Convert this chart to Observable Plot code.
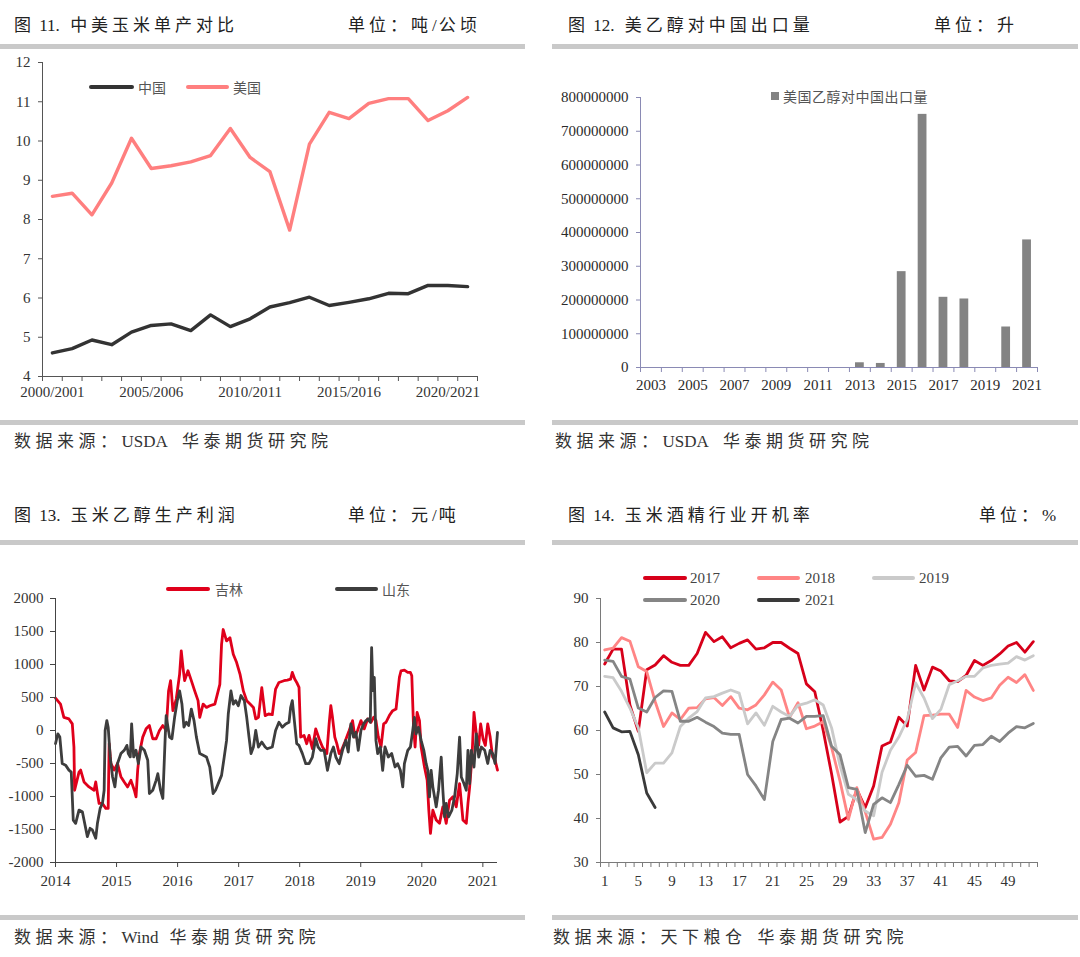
<!DOCTYPE html>
<html><head><meta charset="utf-8">
<script src="https://cdn.jsdelivr.net/npm/d3@7"></script>
<script src="https://cdn.jsdelivr.net/npm/@observablehq/plot@0.6"></script>
<style>
html,body{margin:0;padding:0;background:#fff;}
body{width:1080px;height:957px;position:relative;overflow:hidden;font-family:"Noto Sans CJK SC",sans-serif;}
.t{position:absolute;white-space:pre;line-height:1;}
.rule{position:absolute;height:5px;background:#c9c9c9;}
.sw{position:absolute;height:4px;border-radius:2px;}
svg{position:absolute;overflow:visible;}
</style></head><body>
<script>
// ---------- Data ----------
// Fig 11: corn yield, t/ha
const seasons = ["2000/2001","2001/2002","2002/2003","2003/2004","2004/2005","2005/2006","2006/2007","2007/2008","2008/2009","2009/2010","2010/2011","2011/2012","2012/2013","2013/2014","2014/2015","2015/2016","2016/2017","2017/2018","2018/2019","2019/2020","2020/2021","2021/2022"];
const chinaYield = [4.60,4.71,4.93,4.81,5.13,5.30,5.34,5.17,5.57,5.27,5.47,5.77,5.88,6.02,5.81,5.89,5.98,6.12,6.11,6.32,6.32,6.29];
const usYield = [8.59,8.67,8.12,8.93,10.07,9.30,9.37,9.47,9.63,10.32,9.58,9.22,7.73,9.92,10.73,10.57,10.96,11.08,11.08,10.52,10.77,11.11];
const seasonLabelIdx = [0,5,10,15,20];

// Fig 12: US ethanol exports to China, litres
const exportYears = [2003,2004,2005,2006,2007,2008,2009,2010,2011,2012,2013,2014,2015,2016,2017,2018,2019,2020,2021];
const exportLiters = [0,0,0,0,0,0,0,0,0,0,14000000,12000000,284000000,750000000,208000000,203000000,0,120000000,378000000];
const exportLabelYears = [2003,2005,2007,2009,2011,2013,2015,2017,2019,2021];

// Fig 13: corn ethanol production profit, yuan/t  [decimal year, value]
const jilin = [[2014.000,492],[2014.082,400],[2014.137,200],[2014.220,175],[2014.275,100],[2014.302,-250],[2014.313,-905],[2014.385,-630],[2014.412,-600],[2014.467,-780],[2014.549,-855],[2014.632,-905],[2014.659,-780],[2014.687,-955],[2014.714,-1105],[2014.769,-1105],[2014.824,-1180],[2014.863,-1180],[2014.879,-200],[2014.907,-500],[2014.962,-600],[2015.016,-500],[2015.071,-700],[2015.126,-780],[2015.181,-855],[2015.236,-755],[2015.291,-905],[2015.319,-1005],[2015.346,-600],[2015.374,-350],[2015.429,-100],[2015.484,25],[2015.538,75],[2015.593,-125],[2015.648,-125],[2015.703,0],[2015.758,75],[2015.813,0],[2015.852,600],[2015.885,755],[2015.923,300],[2015.978,477],[2016.033,855],[2016.060,1205],[2016.088,955],[2016.115,755],[2016.170,905],[2016.225,755],[2016.280,600],[2016.335,452],[2016.363,200],[2016.418,400],[2016.473,350],[2016.527,375],[2016.610,400],[2016.665,600],[2016.692,700],[2016.720,1305],[2016.747,1530],[2016.802,1357],[2016.857,1407],[2016.912,1155],[2016.967,1030],[2017.022,855],[2017.077,600],[2017.132,452],[2017.187,400],[2017.242,350],[2017.280,175],[2017.324,200],[2017.379,650],[2017.434,225],[2017.489,250],[2017.551,240],[2017.605,628],[2017.660,728],[2017.742,754],[2017.797,764],[2017.852,779],[2017.879,880],[2017.918,779],[2017.951,728],[2017.989,653],[2018.016,-100],[2018.071,-75],[2018.115,-200],[2018.153,-75],[2018.208,-276],[2018.263,25],[2018.318,-125],[2018.373,-250],[2018.444,-350],[2018.482,100],[2018.510,377],[2018.537,200],[2018.575,-100],[2018.608,-200],[2018.647,-350],[2018.685,-300],[2018.740,-175],[2018.811,0],[2018.866,150],[2018.904,-100],[2018.948,0],[2019.003,150],[2019.058,25],[2019.112,175],[2019.167,125],[2019.211,200],[2019.249,150],[2019.288,-100],[2019.332,-250],[2019.375,100],[2019.414,125],[2019.468,226],[2019.523,301],[2019.578,326],[2019.633,804],[2019.660,905],[2019.715,915],[2019.770,880],[2019.814,880],[2019.836,830],[2019.863,100],[2019.890,-250],[2019.923,276],[2019.962,150],[2019.989,-250],[2020.044,-553],[2020.088,-754],[2020.115,-1206],[2020.142,-1558],[2020.181,-1206],[2020.236,-1357],[2020.290,-1407],[2020.345,-1156],[2020.400,-1407],[2020.455,-1055],[2020.510,-1005],[2020.564,-1156],[2020.619,-804],[2020.674,-1357],[2020.729,-1407],[2020.756,-1106],[2020.784,-854],[2020.822,-402],[2020.855,276],[2020.893,-50],[2020.932,-226],[2020.964,100],[2021.003,-125],[2021.041,-226],[2021.080,100],[2021.120,-100],[2021.160,-400],[2021.200,-450],[2021.240,-600]];
const shandong = [[2014.000,-200],[2014.038,-50],[2014.071,-100],[2014.110,-500],[2014.165,-525],[2014.220,-600],[2014.258,-630],[2014.291,-1357],[2014.330,-1407],[2014.385,-1206],[2014.440,-1230],[2014.467,-1357],[2014.522,-1608],[2014.566,-1482],[2014.604,-1507],[2014.659,-1633],[2014.687,-1407],[2014.731,-1180],[2014.769,-1105],[2014.797,-905],[2014.813,0],[2014.841,150],[2014.863,50],[2014.896,-400],[2014.934,-700],[2014.973,-855],[2015.016,-500],[2015.071,-350],[2015.126,-300],[2015.170,-225],[2015.192,-350],[2015.225,-400],[2015.247,100],[2015.280,-400],[2015.319,-300],[2015.357,-500],[2015.401,-250],[2015.456,-300],[2015.511,-450],[2015.538,-955],[2015.593,-905],[2015.648,-755],[2015.676,-655],[2015.720,-905],[2015.758,-1030],[2015.797,-100],[2015.813,225],[2015.868,-100],[2015.907,-125],[2015.951,200],[2015.995,452],[2016.033,600],[2016.071,400],[2016.104,50],[2016.143,125],[2016.181,75],[2016.225,325],[2016.269,150],[2016.308,-100],[2016.363,-350],[2016.418,-375],[2016.473,-400],[2016.527,-555],[2016.582,-955],[2016.621,-905],[2016.665,-805],[2016.720,-680],[2016.764,-400],[2016.802,-150],[2016.830,250],[2016.874,600],[2016.912,400],[2016.951,452],[2016.995,375],[2017.038,530],[2017.093,452],[2017.132,200],[2017.170,-100],[2017.203,-350],[2017.242,-250],[2017.280,0],[2017.324,-250],[2017.379,-175],[2017.434,-250],[2017.468,-276],[2017.551,-250],[2017.605,0],[2017.660,125],[2017.715,50],[2017.770,100],[2017.825,125],[2017.852,352],[2017.879,452],[2017.907,200],[2017.951,-200],[2017.989,-226],[2018.044,-350],[2018.099,-503],[2018.153,-503],[2018.208,-402],[2018.263,-125],[2018.301,-250],[2018.345,-300],[2018.400,-300],[2018.455,-603],[2018.510,-350],[2018.553,-250],[2018.592,-402],[2018.647,-503],[2018.701,-300],[2018.756,-150],[2018.795,-327],[2018.838,100],[2018.882,-100],[2018.921,-25],[2018.959,-300],[2019.003,0],[2019.047,100],[2019.085,150],[2019.123,175],[2019.156,125],[2019.178,1256],[2019.200,603],[2019.222,804],[2019.249,-150],[2019.277,-350],[2019.321,-250],[2019.359,-603],[2019.397,-250],[2019.452,-402],[2019.507,-350],[2019.562,-553],[2019.605,-503],[2019.649,-603],[2019.688,-854],[2019.715,-503],[2019.770,-300],[2019.814,-250],[2019.852,0],[2019.879,200],[2019.907,-50],[2019.945,50],[2019.989,-150],[2020.033,-300],[2020.071,-503],[2020.099,-603],[2020.126,-1005],[2020.153,-603],[2020.181,-854],[2020.236,-1156],[2020.274,-905],[2020.318,-402],[2020.345,-905],[2020.373,-1307],[2020.400,-1106],[2020.438,-1307],[2020.493,-1206],[2020.537,-1005],[2020.581,-653],[2020.619,-100],[2020.647,-704],[2020.690,-804],[2020.729,-905],[2020.756,-300],[2020.784,-804],[2020.811,-300],[2020.855,-553],[2020.893,-50],[2020.932,-402],[2020.975,-250],[2021.030,-300],[2021.080,-500],[2021.120,-300],[2021.160,-350],[2021.200,-500],[2021.240,-30]];
const profitYears = [2014,2015,2016,2017,2018,2019,2020,2021];
const profitTicks = [-2000,-1500,-1000,-500,0,500,1000,1500,2000];

// Fig 14: corn alcohol industry operating rate, % by week
const rate2017 = [75.1,78.5,78.5,65.8,59.8,73.8,74.9,77.0,75.5,74.8,74.8,77.5,82.3,80.2,81.3,78.8,79.8,80.6,78.5,78.8,80.0,80.0,78.7,77.5,70.6,68.8,60.0,50.1,39.2,40.5,46.6,42.5,47.4,56.5,57.4,63.0,61.0,74.8,69.2,74.4,73.5,71.3,71.1,72.5,75.9,74.8,75.9,77.4,79.2,80.0,77.8,80.2];
const rate2018 = [78.3,78.7,81.1,80.3,74.5,73.4,66.6,60.9,64.0,62.5,65.1,65.2,67.2,67.5,65.7,67.7,65.1,64.7,65.8,68.1,71.0,69.2,63.0,66.3,60.4,61.0,62.0,56.1,48.5,39.8,47.0,41.5,35.3,35.7,38.7,43.6,53.3,55.0,63.4,63.5,63.7,63.7,60.7,69.1,67.6,66.8,67.4,70.3,72.1,70.9,72.7,69.1];
const rate2019 = [72.3,72.0,68.9,65.1,60.6,50.4,52.6,52.6,54.9,60.9,62.8,64.3,67.4,67.7,68.5,69.2,68.5,61.5,64.0,61.2,65.5,64.2,63.2,65.7,66.2,67.0,65.8,60.6,52.0,45.5,44.3,41.7,40.6,50.5,55.5,58.5,62.5,70.8,67.4,62.7,64.8,70.4,71.3,72.3,72.3,74.2,74.8,75.1,75.3,76.8,76.0,77.0];
const rate2020 = [76.0,75.7,72.3,71.7,65.1,64.2,67.5,69.0,68.9,62.1,62.1,63.0,61.9,60.9,59.4,59.1,59.1,50.0,47.4,44.3,57.5,62.5,62.8,61.7,63.2,63.2,63.4,56.4,54.5,47.0,46.6,36.8,43.2,44.7,43.6,47.7,52.1,49.6,49.8,48.9,53.8,56.2,56.4,54.2,56.6,56.8,58.7,57.5,59.4,60.9,60.6,61.6];
const rate2021 = [64.2,60.6,59.7,59.8,54.5,45.8,42.5];
const weekLabels = [1,5,9,13,17,21,25,29,33,37,41,45,49];
const rateSeries = [
  {name:"2017", values:rate2017, color:"#d7001a"},
  {name:"2018", values:rate2018, color:"#ff8585"},
  {name:"2019", values:rate2019, color:"#cacaca"},
  {name:"2020", values:rate2020, color:"#858585"},
  {name:"2021", values:rate2021, color:"#3a3a3a"}
];

// ---------- helpers ----------
const SERIF = '"Liberation Serif","Times New Roman",serif';
const CJK = '"Noto Sans CJK SC",sans-serif';
function text(x, yc, str, size, color, opts={}) {
  const d = document.createElement("div");
  d.className = "t";
  Object.assign(d.style, {left:x+"px", top:(yc - size/2)+"px", fontSize:size+"px", color:color,
    fontFamily: opts.font || (SERIF + "," + CJK), height:size+"px"});
  const ls = opts.ls || 0;
  // letter spacing for CJK glyphs only; Latin runs stay tight
  const runs = str.match(/[\x20-\x7e]+|[^\x20-\x7e]+/g) || [];
  runs.forEach(r => {
    const s = document.createElement("span");
    s.textContent = r;
    const ascii = /^[\x20-\x7e]+$/.test(r);
    s.style.letterSpacing = (ascii ? 0 : ls) + "px";
    if (ascii) s.style.marginRight = (/\s$/.test(r) ? ls * 1.5 : ls * 0.5) + "px";
    d.appendChild(s);
  });
  document.body.appendChild(d);
  return d;
}
function rule(x1, x2, y) {
  const d = document.createElement("div");
  d.className = "rule";
  Object.assign(d.style, {left:x1+"px", width:(x2-x1)+"px", top:y+"px"});
  document.body.appendChild(d);
}
function swatch(x1, x2, yc, color, h=4) {
  const d = document.createElement("div");
  d.className = "sw";
  Object.assign(d.style, {left:x1+"px", width:(x2-x1)+"px", top:(yc-h/2)+"px", height:h+"px", background:color});
  document.body.appendChild(d);
}
function place(svg, left, top) {
  svg.style.left = left + "px";
  svg.style.top = top + "px";
  document.body.appendChild(svg);
}
const baseStyle = {fontFamily: SERIF, fontSize: "15px", color: "#333", background: "transparent", overflow: "visible"};

// ---------- headers / footers ----------
const titleSize = 17, titleLS = 4;
text(14, 25, "图 11. 中美玉米单产对比", titleSize, "#222", {ls:titleLS});
text(348, 25, "单位：吨/公顷", titleSize, "#222", {ls:titleLS});
text(568, 25, "图 12. 美乙醇对中国出口量", titleSize, "#222", {ls:titleLS});
text(934, 25, "单位：升", titleSize, "#222", {ls:titleLS});
text(14, 515, "图 13. 玉米乙醇生产利润", titleSize, "#222", {ls:titleLS});
text(348, 515, "单位：元/吨", titleSize, "#222", {ls:titleLS});
text(568, 515, "图 14. 玉米酒精行业开机率", titleSize, "#222", {ls:titleLS});
text(979, 515, "单位：%", titleSize, "#222", {ls:titleLS});
rule(0, 525, 44); rule(552, 1078, 44);
rule(0, 525, 420); rule(552, 1078, 420);
rule(0, 525, 540); rule(552, 1078, 540);
rule(0, 525, 915); rule(552, 1078, 915);
text(14, 441, "数据来源：USDA  华泰期货研究院", 17, "#333", {ls:4.5});
text(555, 441, "数据来源：USDA  华泰期货研究院", 17, "#333", {ls:4.5});
text(14, 937, "数据来源：Wind 华泰期货研究院", 17, "#333", {ls:4.5});
text(553, 937, "数据来源：天下粮仓 华泰期货研究院", 17, "#333", {ls:4.5});

// ---------- Fig 11 ----------
const yieldData = [
  ...usYield.map((v,i)=>({i, v, s:"美国"})),
  ...chinaYield.map((v,i)=>({i, v, s:"中国"}))
];
const p1 = Plot.plot({
  width: 500, height: 360, marginLeft: 42, marginRight: 23, marginTop: 12, marginBottom: 34,
  style: baseStyle,
  x: {type: "linear", domain: [-0.5, seasons.length - 0.5]},
  y: {domain: [4, 12]},
  marks: [
    Plot.ruleX([-0.5], {stroke: "#555"}),
    Plot.ruleY([4], {stroke: "#555"}),
    Plot.axisY({ticks: d3.range(4, 13), tickSize: 4, tickPadding: 8, stroke: "#555", label: null, tickFormat: d => String(d)}),
    Plot.axisX({ticks: d3.range(-0.5, seasons.length), tickSize: 5, stroke: "#555", tickFormat: () => "", label: null}),
    Plot.axisX({ticks: seasonLabelIdx, tickSize: 0, tickPadding: 10, tickFormat: i => seasons[i], label: null}),
    Plot.line(yieldData.filter(d=>d.s==="美国"), {x: "i", y: "v", stroke: "#ff7f7f", strokeWidth: 3.4, strokeLinejoin: "round"}),
    Plot.line(yieldData.filter(d=>d.s==="中国"), {x: "i", y: "v", stroke: "#333333", strokeWidth: 3.4, strokeLinejoin: "round"})
  ]
});
place(p1, 0, 50);
swatch(89, 134, 87, "#333333", 4);
text(138, 87, "中国", 14, "#555", {font: CJK});
swatch(186, 229, 87, "#ff7f7f", 4);
text(233, 87, "美国", 14, "#555", {font: CJK});

// ---------- Fig 12 ----------
const exportData = exportYears.map((y,k)=>({year:y, value:exportLiters[k]}));
const p2 = Plot.plot({
  width: 520, height: 330, marginLeft: 100, marginRight: 23, marginTop: 27, marginBottom: 33,
  style: {...baseStyle, color: "#2a2a2a"},
  x: {type: "linear", domain: [exportYears[0] - 0.5, exportYears[exportYears.length-1] + 0.5]},
  y: {domain: [0, 800000000]},
  marks: [
    Plot.rectY(exportData.filter(d=>d.value>0), {x1: d => d.year - 0.21, x2: d => d.year + 0.21, y: "value", fill: "#838383"}),
    Plot.ruleX([exportYears[0] - 0.5], {stroke: "#8a8ab4"}),
    Plot.ruleY([0], {stroke: "#8a8ab4"}),
    Plot.axisY({ticks: d3.range(0, 800000001, 100000000), tickSize: 4, tickPadding: 8, stroke: "#8a8ab4", label: null, tickFormat: d => String(d)}),
    Plot.axisX({ticks: d3.range(exportYears[0] - 0.5, exportYears[exportYears.length-1] + 1), tickSize: 5, stroke: "#8a8ab4", tickFormat: () => "", label: null}),
    Plot.axisX({ticks: exportLabelYears, tickSize: 0, tickPadding: 12, tickFormat: d => String(d), label: null})
  ]
});
place(p2, 540, 70);
const sq = document.createElement("div");
Object.assign(sq.style, {position:"absolute", left:"771px", top:"92px", width:"8px", height:"8px", background:"#838383"});
document.body.appendChild(sq);
text(783, 96, "美国乙醇对中国出口量", 14, "#555", {font: CJK, ls: 0.5});

// ---------- Fig 13 ----------
const profitData = [
  ...jilin.map(([t,v])=>({t, v, s:"吉林"})),
  ...shandong.map(([t,v])=>({t, v, s:"山东"}))
];
const p3 = Plot.plot({
  width: 520, height: 335, marginLeft: 55, marginRight: 23, marginTop: 38, marginBottom: 33,
  style: baseStyle,
  x: {type: "linear", domain: [2014, 2021.24]},
  y: {domain: [-2000, 2000]},
  marks: [
    Plot.line(profitData.filter(d=>d.s==="吉林"), {x: "t", y: "v", stroke: "#e0001b", strokeWidth: 2.8, strokeLinejoin: "round"}),
    Plot.line(profitData.filter(d=>d.s==="山东"), {x: "t", y: "v", stroke: "#3d3d3d", strokeWidth: 2.8, strokeLinejoin: "round"}),
    Plot.ruleX([2014], {stroke: "#444"}),
    Plot.ruleY([-2000], {stroke: "#444"}),
    Plot.axisY({ticks: profitTicks, tickSize: 5, tickPadding: 7, stroke: "#444", label: null, tickFormat: d => String(d)}),
    Plot.axisX({ticks: profitYears, tickSize: 5, tickPadding: 8, stroke: "#444", label: null, tickFormat: d => String(d)})
  ]
});
place(p3, 0, 560);
swatch(166, 210, 589, "#e0001b", 4);
text(215, 589, "吉林", 14, "#555", {font: CJK});
swatch(335, 378, 589, "#3d3d3d", 4);
text(382, 589, "山东", 14, "#555", {font: CJK});

// ---------- Fig 14 ----------
const rateData = rateSeries.flatMap(s => s.values.map((v,k)=>({w:k+1, v, s:s.name})));
const p4 = Plot.plot({
  width: 520, height: 335, marginLeft: 60, marginRight: 23, marginTop: 38, marginBottom: 33,
  style: baseStyle,
  x: {type: "linear", domain: [0.5, 52.5]},
  y: {domain: [30, 90]},
  marks: [
    ...rateSeries.map(s => Plot.line(rateData.filter(d=>d.s===s.name), {x: "w", y: "v", stroke: s.color, strokeWidth: 2.8, strokeLinejoin: "round"})),
    Plot.ruleX([0.5], {stroke: "#7a7a7a"}),
    Plot.ruleY([30], {stroke: "#7a7a7a"}),
    Plot.axisY({ticks: d3.range(30, 91, 10), tickSize: 4, tickPadding: 8, stroke: "#7a7a7a", label: null, tickFormat: d => String(d)}),
    Plot.axisX({ticks: d3.range(0.5, 53), tickSize: 5, stroke: "#7a7a7a", tickFormat: () => "", label: null}),
    Plot.axisX({ticks: weekLabels, tickSize: 0, tickPadding: 13, tickFormat: d => String(d), label: null})
  ]
});
place(p4, 540, 560);
const legPos = [[643,687,690,578],[757,800,805,578],[872,915,919,578],[643,687,690,600],[757,800,805,600]];
rateSeries.forEach((s,k)=>{
  const [a,b,tx,yc] = legPos[k];
  swatch(a, b, yc, s.color, 4);
  text(tx, yc, s.name, 15, "#444");
});
</script>
</body></html>
